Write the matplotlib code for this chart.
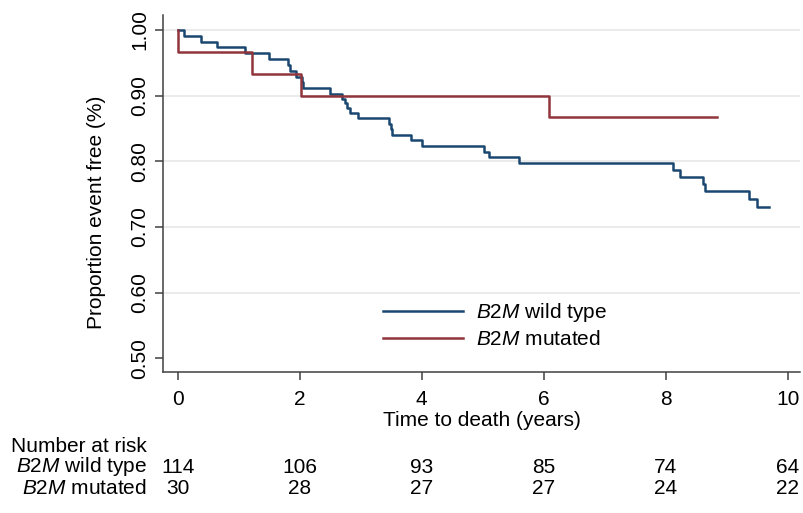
from matplotlib import pyplot as plt
from matplotlib import transforms
from matplotlib.lines import Line2D

plt.rcParams['font.family'] = 'Liberation Sans'
plt.rcParams['mathtext.fontset'] = 'custom'
plt.rcParams['mathtext.rm'] = 'Liberation Sans'
plt.rcParams['mathtext.it'] = 'Liberation Sans:italic'

# Kaplan-Meier steps
wild_t = [0, 0.10, 0.39, 0.64, 1.11, 1.49, 1.81, 1.84, 1.94, 2.04, 2.05, 2.49,
          2.69, 2.74, 2.78, 2.83, 2.95, 3.46, 3.49, 3.52, 3.83, 4.01, 5.02, 5.10,
          5.60, 8.12, 8.23, 8.61, 8.65, 9.36, 9.50, 9.69]
wild_s = [1.00, 0.991, 0.982, 0.974, 0.965, 0.956, 0.947, 0.938, 0.929, 0.921,
          0.912, 0.903, 0.895, 0.888, 0.881, 0.874, 0.866, 0.857, 0.849, 0.840,
          0.832, 0.823, 0.814, 0.806, 0.797, 0.786, 0.776, 0.765, 0.754, 0.742,
          0.731, 0.731]
mut_t = [0, 0.01, 1.22, 2.02, 6.09, 8.84]
mut_s = [1.00, 0.967, 0.933, 0.900, 0.867, 0.867]

risk_times = [0, 2, 4, 6, 8, 10]
risk_wild = [114, 106, 93, 85, 74, 64]
risk_mut = [30, 28, 27, 27, 24, 22]

labels = [r'$\it{B2M}$ wild type', r'$\it{B2M}$ mutated']
navy = '#1a476f'
maroon = '#90353b'
fs = 15

fig = plt.figure(figsize=(8.04, 5.13), dpi=100)
ax = fig.add_axes([163/804, 1 - 372/513, 637/804, 357/513])

ax.step(wild_t, wild_s, where='post', color=navy, lw=1.8)
ax.step(mut_t, mut_s, where='post', color=maroon, lw=1.8)

ax.set_xlim(-0.241, 10.2)
ax.set_ylim(0.479, 1.0228)
ax.set_xticks(risk_times)
ax.set_yticks([0.5, 0.6, 0.7, 0.8, 0.9, 1.0])
ax.set_yticklabels(['0.50', '0.60', '0.70', '0.80', '0.90', '1.00'],
                   rotation=90, va='center')
ax.tick_params(axis='both', labelsize=fs, length=6, width=1.1, color='#404040')
ax.tick_params(axis='y', pad=4)
ax.tick_params(axis='x', pad=7)

ax.yaxis.grid(True, color='#e8e8e8', lw=1.2)
ax.get_ygridlines()[0].set_visible(False)
ax.set_axisbelow(True)

for s in ['top', 'right']:
    ax.spines[s].set_visible(False)
for s in ['left', 'bottom']:
    ax.spines[s].set_color('#404040')
    ax.spines[s].set_linewidth(1.1)

handles = [Line2D([], [], color=navy, lw=1.8), Line2D([], [], color=maroon, lw=1.8)]
ax.legend(handles, labels, frameon=False, fontsize=fs, loc='center left',
          bbox_to_anchor=(0.3454, 0.131), borderpad=0, borderaxespad=0,
          handlelength=3.85, handletextpad=0.63, labelspacing=0.3)

fig.text(481.5/804, 1 - 420/513, 'Time to death (years)', fontsize=fs,
         ha='center', va='center')
fig.text(97/804, 1 - 212/513, 'Proportion event free (%)', fontsize=fs,
         ha='center', va='center', rotation=90)

# number at risk table, one text block per column (baseline = last line)
tr = transforms.blended_transform_factory(ax.transData, fig.transFigure)
fig.text(147/804, 1 - 493.5/513, 'Number at risk\n' + labels[0] + '\n' + labels[1],
         fontsize=fs, ha='right', va='baseline', multialignment='right',
         linespacing=1.0)
for t, w, m in zip(risk_times, risk_wild, risk_mut):
    fig.text(t, 1 - 493.5/513, f'{w}\n{m}', fontsize=fs, ha='center',
             va='baseline', multialignment='center', linespacing=1.08, transform=tr)

plt.savefig('out.png', dpi=100)
